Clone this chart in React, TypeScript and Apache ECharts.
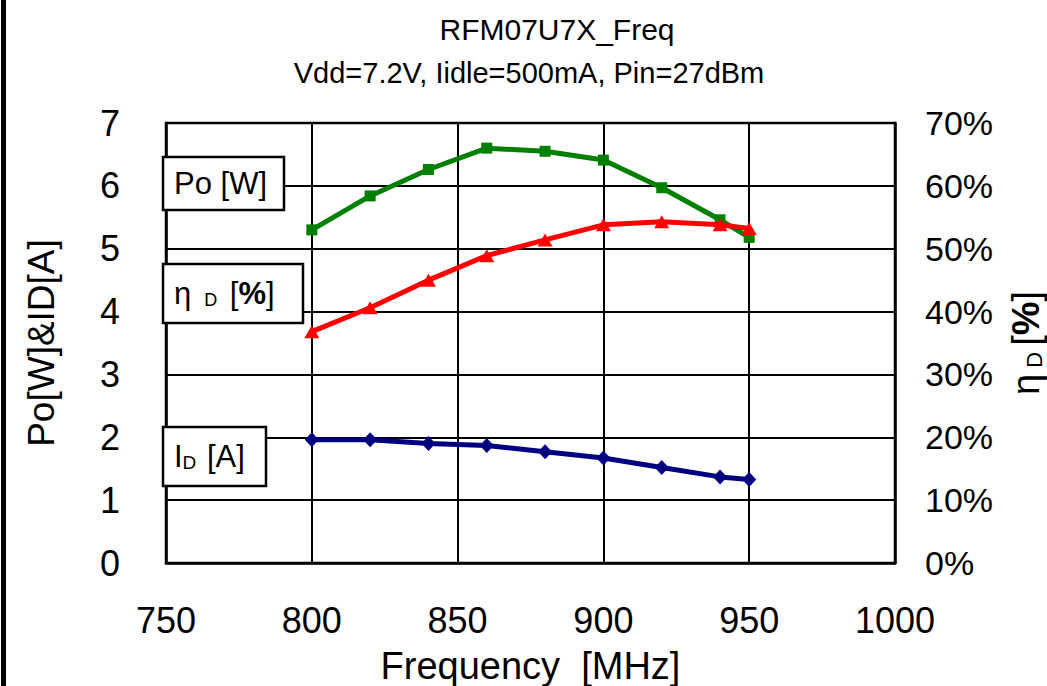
import React, { useEffect, useRef } from "react";
import * as echarts from "echarts";

const FONT = "'Liberation Sans', Arial, sans-serif";

const titleText = "RFM07U7X_Freq";
const subtitleText = "Vdd=7.2V, Iidle=500mA, Pin=27dBm";

// Frequency sweep points [MHz]
const freq = [800, 820, 840, 860, 880, 900, 920, 940, 950];
// Output power Po [W]
const po = [5.3, 5.84, 6.26, 6.6, 6.55, 6.41, 5.97, 5.46, 5.18];
// Drain efficiency ηD [%]
const eta = [36.8, 40.6, 45.0, 48.9, 51.4, 53.8, 54.3, 53.8, 53.2];
// Drain current ID [A]
const idA = [1.96, 1.96, 1.9, 1.87, 1.77, 1.67, 1.52, 1.37, 1.33];

const GRID = { left: 166, right: 152, top: 123, bottom: 123 };

function pairs(ys: number[]) {
  return freq.map((f, i) => [f, ys[i]]);
}

function labelBox(
  x: number,
  y: number,
  w: number,
  h: number,
  text: string,
  rich: Record<string, any>
) {
  return {
    type: "group",
    x,
    y,
    z: 100,
    children: [
      {
        type: "rect",
        z: 100,
        shape: { x: 0, y: 0, width: w, height: h },
        style: { fill: "#fff", stroke: "#000", lineWidth: 2.5 },
      },
      {
        type: "text",
        z: 101,
        x: 11,
        y: h / 2,
        style: {
          text,
          rich,
          textVerticalAlign: "middle",
          textAlign: "left",
          fill: "#000",
          font: `31px ${FONT}`,
        },
      },
    ],
  };
}

export default function App() {
  const ref = useRef<HTMLDivElement>(null);

  useEffect(() => {
    if (!ref.current) return;
    const chart = echarts.init(ref.current, null, { renderer: "svg" });

    const axisLabelStyle = {
      color: "#000",
      fontSize: 36,
      lineHeight: 40,
      fontFamily: FONT,
    };
    const titleStyle = { fontWeight: "normal", color: "#000", fontFamily: FONT };

    chart.setOption({
      animation: false,
      backgroundColor: "#fff",
      title: [
        {
          text: titleText,
          left: 557,
          top: 14,
          padding: 0,
          textAlign: "center",
          textStyle: { ...titleStyle, fontSize: 30 },
        },
        {
          text: subtitleText,
          left: 529,
          top: 58,
          padding: 0,
          textAlign: "center",
          textStyle: { ...titleStyle, fontSize: 29 },
        },
      ],
      grid: {
        ...GRID,
        outerBoundsMode: "none",
        containLabel: false,
        show: true,
        borderColor: "#000",
        borderWidth: 2.5,
        backgroundColor: "transparent",
      },
      xAxis: {
        type: "value",
        min: 750,
        max: 1000,
        interval: 50,
        name: "Frequency  [MHz]",
        nameLocation: "middle",
        nameGap: 80,
        nameTextStyle: { color: "#000", fontSize: 38, lineHeight: 42, fontFamily: FONT },
        axisLine: { show: true, lineStyle: { color: "#000", width: 2.5 } },
        axisTick: { show: false },
        axisLabel: { ...axisLabelStyle, margin: 37, formatter: (v: number) => String(v) },
        splitLine: { show: true, lineStyle: { color: "#000", width: 2 } },
      },
      yAxis: [
        {
          type: "value",
          min: 0,
          max: 7,
          interval: 1,
          position: "left",
          name: "Po[W]&ID[A]",
          nameLocation: "middle",
          nameRotate: 90,
          nameGap: 106,
          nameTextStyle: { color: "#000", fontSize: 37, fontFamily: FONT },
          axisLine: { show: true, lineStyle: { color: "#000", width: 2.5 } },
          axisTick: { show: false },
          axisLabel: { ...axisLabelStyle, margin: 46 },
          splitLine: { show: true, lineStyle: { color: "#000", width: 2 } },
        },
        {
          type: "value",
          min: 0,
          max: 70,
          interval: 10,
          position: "right",
          name: "{n|η}{s| D }{n|[}{b|%}{n|]}",
          nameLocation: "middle",
          nameRotate: 90,
          nameGap: 112,
          nameTextStyle: {
            color: "#000",
            fontSize: 38,
            fontFamily: FONT,
            rich: {
              n: { fontSize: 38, fontFamily: FONT, color: "#000" },
              s: { fontSize: 22, fontFamily: FONT, color: "#000", verticalAlign: "bottom", padding: [14, 0, 0, 0] },
              b: { fontSize: 38, fontFamily: FONT, color: "#000", fontWeight: "bold" },
            },
          },
          axisLine: { show: true, lineStyle: { color: "#000", width: 2.5 } },
          axisTick: { show: false },
          axisLabel: { ...axisLabelStyle, fontSize: 34, margin: 30, formatter: "{value}%" },
          splitLine: { show: false },
        },
      ],
      series: [
        {
          name: "Po [W]",
          type: "line",
          yAxisIndex: 0,
          data: pairs(po),
          symbol: "rect",
          symbolSize: 11,
          lineStyle: { color: "#008000", width: 5 },
          itemStyle: { color: "#008000" },
          z: 3,
        },
        {
          name: "ηD [%]",
          type: "line",
          yAxisIndex: 1,
          data: pairs(eta),
          symbol: "triangle",
          symbolSize: [15, 13],
          lineStyle: { color: "#ff0000", width: 5 },
          itemStyle: { color: "#ff0000" },
          z: 4,
        },
        {
          name: "ID [A]",
          type: "line",
          yAxisIndex: 0,
          data: pairs(idA),
          symbol: "diamond",
          symbolSize: [14, 15],
          lineStyle: { color: "#000080", width: 5 },
          itemStyle: { color: "#000080" },
          z: 3,
        },
      ],
      graphic: [
        {
          type: "rect",
          shape: { x: 1, y: 0, width: 5, height: 686 },
          style: { fill: "#000" },
          z: 100,
        },
        labelBox(163, 157, 121, 53, "Po [W]", {}),
        labelBox(163, 264, 140, 59, "{n|η}{s| D} {n|[}{b|%}{n|]}", {
          n: { font: `31px ${FONT}`, fill: "#000" },
          s: { font: `18px ${FONT}`, fill: "#000", verticalAlign: "bottom", padding: [12, 4, 0, 8] },
          b: { font: `bold 31px ${FONT}`, fill: "#000" },
        }),
        labelBox(163, 427, 103, 59, "{n|I}{s|D} {n|[A]}", {
          n: { font: `31px ${FONT}`, fill: "#000" },
          s: { font: `19px ${FONT}`, fill: "#000", verticalAlign: "bottom", padding: [12, 2, 0, 0] },
        }),
      ],
    });

    return () => chart.dispose();
  }, []);

  return (
    <div
      ref={ref}
      style={{ position: "fixed", left: 0, top: 0, width: 1047, height: 686, background: "#fff" }}
    />
  );
}
